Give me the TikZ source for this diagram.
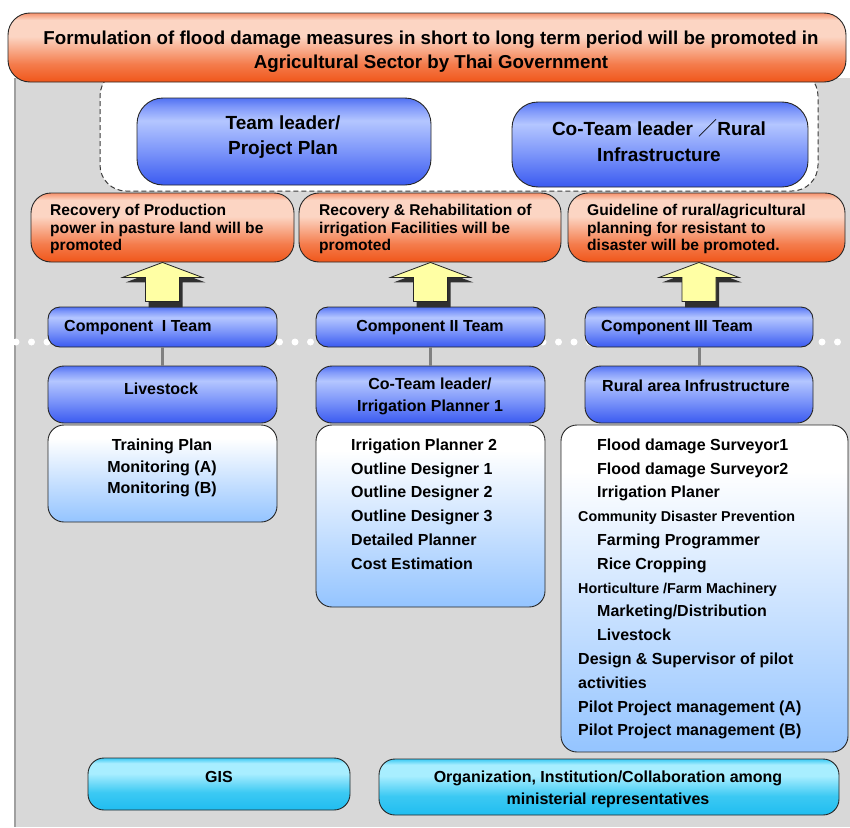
\documentclass[tikz,border=0pt]{standalone}
\usepackage{fontspec}
\setmainfont{Liberation Sans}
\newfontfamily\cjkfont{Noto Sans CJK JP}
\usetikzlibrary{calc}

% palette
\definecolor{panelgray}{HTML}{D8D8D8}
\definecolor{paneledge}{HTML}{A0A0A0}
\definecolor{boxedge}{HTML}{262626}
\definecolor{frameedge}{HTML}{3C3C3C}
\definecolor{linkgray}{HTML}{808080}
\definecolor{orA}{HTML}{F0561A}
\definecolor{orB}{HTML}{F47C4C}
\definecolor{orC}{HTML}{FCD5C3}
\definecolor{orD}{HTML}{F6926C}
\definecolor{blA}{HTML}{3A5AF0}
\definecolor{blB}{HTML}{7E97FA}
\definecolor{blC}{HTML}{B4C6FF}
\definecolor{blD}{HTML}{5272F3}
\definecolor{ltA}{HTML}{94C4FF}
\definecolor{ltB}{HTML}{FFFFFF}
\definecolor{cyA}{HTML}{20BDF0}
\definecolor{cyB}{HTML}{A8EEFF}
\definecolor{cyC}{HTML}{3CC9F3}
\definecolor{arrowyellow}{HTML}{FFFFA4}
\definecolor{arrowshade}{HTML}{303030}

% vertical fills (visible band is 25bp..75bp)
\pgfdeclareverticalshading{orangefill}{100bp}{color(0bp)=(orA); color(25bp)=(orA); color(38bp)=(orB); color(58bp)=(orC); color(70bp)=(orC); color(75bp)=(orD); color(100bp)=(orD)}
\pgfdeclareverticalshading{bluefill}{100bp}{color(0bp)=(blA); color(25bp)=(blA); color(45bp)=(blB); color(62bp)=(blC); color(70bp)=(blB); color(75bp)=(blD); color(100bp)=(blD)}
\pgfdeclareverticalshading{listfill}{100bp}{color(0bp)=(ltA); color(25bp)=(ltA); color(68bp)=(ltB); color(75bp)=(ltB); color(100bp)=(ltB)}
\pgfdeclareverticalshading{cyanfill}{100bp}{color(0bp)=(cyA); color(25bp)=(cyA); color(42bp)=(cyC); color(60bp)=(cyB); color(70bp)=(cyB); color(75bp)=(cyC); color(100bp)=(cyC)}

\tikzset{
  boxbase/.style={draw=boxedge, line width=0.9pt, inner sep=0pt},
  orangebox/.style={boxbase, rounded corners=20pt, shading=orangefill},
  titlebox/.style={boxbase, rounded corners=22pt, shading=orangefill},
  bluebig/.style={boxbase, rounded corners=26pt, shading=bluefill},
  bluesmall/.style={boxbase, rounded corners=12pt, shading=bluefill},
  bluemid/.style={boxbase, rounded corners=16pt, shading=bluefill},
  listbox/.style={boxbase, rounded corners=16pt, shading=listfill},
  cyanbox/.style={boxbase, rounded corners=16pt, shading=cyanfill},
  dashframe/.style={draw=frameedge, fill=white, line width=1pt,
    dash pattern=on 5pt off 3pt, rounded corners=26pt, inner sep=0pt},
  link/.style={draw=linkgray, line width=3pt},
  dotrule/.style={draw=white, line width=7pt, line cap=round,
    dash pattern=on 0pt off 15.5pt},
  txt/.style={inner sep=0pt, font=\bfseries\fontsize{16}{23.8}\selectfont},
  titletxt/.style={inner sep=0pt, align=center, font=\bfseries\fontsize{18.7}{24}\selectfont},
  leadtxt/.style={inner sep=0pt, align=center, font=\bfseries\fontsize{19}{25.5}\selectfont},
  goaltxt/.style={inner sep=0pt, align=left, anchor=west,
    font=\bfseries\fontsize{15.6}{17.5}\selectfont},
  upblock/.pic={
    \fill[arrowshade] (3,5) -- (43,20) -- (20,20) -- (20,45) -- (-14,45)
      -- (-14,20) -- (-37,20) -- cycle;
    \draw[boxedge, fill=arrowyellow, line width=0.8pt] (0,0) -- (40,15)
      -- (17,15) -- (17,39) -- (-17,39) -- (-17,15) -- (-40,15) -- cycle;
  }
}

% a named box from its corners (x1,y1) to (x2,y2), y growing downwards
\newcommand\boxnode[6]{%
  \node[#2, minimum width={(#5-#3)*1pt}, minimum height={(#6-#4)*1pt}]
    (#1) at ({(#3+#5)/2},{(#4+#6)/2}) {};}

\begin{document}
\begin{tikzpicture}[x=1pt,y=-1pt]
\useasboundingbox (0,0) rectangle (850,827);

% grey background panel
\fill[panelgray] (14,78) rectangle (850,827);
\draw[paneledge, line width=2.5pt] (15.2,78) -- (15.2,827);

% leadership frame
\boxnode{leadframe}{dashframe}{100}{70}{818}{191}

% dotted rule across the panel
\coordinate (dotstart) at (16,342);
\coordinate (dotend) at (850,342);
\draw[dotrule] (dotstart) -- (dotend);

% title
\boxnode{title}{titlebox}{8}{13}{846}{82}
\node[titletxt] (titletext) at (431,51.5)
  {Formulation of flood damage measures in short to long term period will be promoted in\\
   Agricultural Sector by Thai Government};

% leaders
\boxnode{leader}{bluebig}{137}{98}{431}{185}
\node[leadtxt] (leadertext) at (283,137) {Team leader/\\Project Plan};
\boxnode{coleader}{bluebig}{512}{102}{808}{187}
\node[leadtxt] (coleadertext) at (659,140.5)
  {Co-Team leader {\cjkfont\mdseries ／}Rural\\Infrastructure};

% goals
\boxnode{goal1}{orangebox}{31}{193}{294}{262}
\node[goaltxt] (goal1text) at (50,229)
  {Recovery of Production\\power in pasture land will be\\promoted};
\boxnode{goal2}{orangebox}{299}{193}{561}{262}
\node[goaltxt] (goal2text) at (319,229)
  {Recovery \& Rehabilitation of\\irrigation Facilities will be\\promoted};
\boxnode{goal3}{orangebox}{568}{193}{845}{262}
\node[goaltxt] (goal3text) at (587,229)
  {Guideline of rural/agricultural\\planning for resistant to\\disaster will be promoted.};

% component teams
\boxnode{comp1}{bluesmall}{48}{307}{277}{347}
\node[txt, anchor=west] (comp1text) at (64,328) {Component\ \ I Team};
\boxnode{comp2}{bluesmall}{316}{307}{545}{347}
\node[txt] (comp2text) at (430,328) {Component II Team};
\boxnode{comp3}{bluesmall}{585}{307}{813}{347}
\node[txt, anchor=west] (comp3text) at (601,328) {Component III Team};

% arrows from teams up to goals
\pic at (comp1.north |- goal1.south) {upblock};
\pic at (comp2.north |- goal2.south) {upblock};
\pic at (comp3.north |- goal3.south) {upblock};

% leads of each component
\boxnode{lead1}{bluemid}{48}{366}{277}{423}
\node[txt] (lead1text) at (161,389) {Livestock};
\boxnode{lead2}{bluemid}{316}{366}{545}{423}
\node[txt, align=center, font=\bfseries\fontsize{16}{22}\selectfont] (lead2text) at (430,396.5)
  {Co-Team leader/\\Irrigation Planner 1};
\boxnode{lead3}{bluemid}{585}{366}{813}{423}
\node[txt] (lead3text) at (696,386) {Rural area Infrustructure};

\draw[link] (comp1) -- (lead1);
\draw[link] (comp2) -- (lead2);
\draw[link] (comp3) -- (lead3);

% member lists
\boxnode{list1}{listbox}{48}{425}{277}{522}
\node[txt, align=center, font=\bfseries\fontsize{16}{21.5}\selectfont] (list1text) at (162,468)
  {Training Plan\\Monitoring (A)\\Monitoring (B)};
\boxnode{list2}{listbox}{316}{425}{545}{607}
\node[txt, align=left, anchor=west] (list2text) at (351,504)
  {Irrigation Planner 2\\Outline Designer 1\\Outline Designer 2\\Outline Designer 3\\Detailed Planner\\Cost Estimation};
\boxnode{list3}{listbox}{561}{425}{848}{752}
\node[txt, align=left, anchor=west] (list3text) at (578,589)
  {\hspace*{19pt}Flood damage Surveyor1\\
   \hspace*{19pt}Flood damage Surveyor2\\
   \hspace*{19pt}Irrigation Planer\\
   {\fontsize{14.3}{23.8}\selectfont Community Disaster Prevention}\\
   \hspace*{19pt}Farming Programmer\\
   \hspace*{19pt}Rice Cropping\\
   {\fontsize{14.3}{23.8}\selectfont Horticulture /Farm Machinery}\\
   \hspace*{19pt}Marketing/Distribution\\
   \hspace*{19pt}Livestock\\
   Design \& Supervisor of pilot\\
   activities\\
   Pilot Project management (A)\\
   Pilot Project management (B)};

% cross-cutting members
\boxnode{gis}{cyanbox}{88}{758}{350}{810}
\node[txt] (gistext) at (219,777) {GIS};
\boxnode{org}{cyanbox}{379}{759}{839}{815}
\node[txt, align=center, font=\bfseries\fontsize{16}{22}\selectfont] (orgtext) at (608,789)
  {Organization, Institution/Collaboration among\\ministerial representatives};
\end{tikzpicture}
\end{document}
